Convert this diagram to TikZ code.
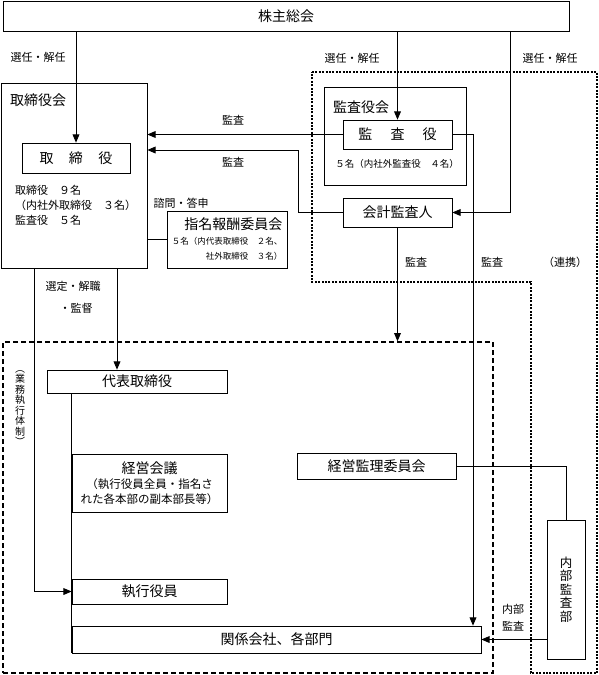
\documentclass[tikz,border=0pt]{standalone}
\usepackage{fontspec}
\setmainfont{Noto Sans CJK JP}
\usetikzlibrary{positioning}
\usetikzlibrary{shapes,arrows}
\usetikzlibrary{calc}

\begin{document}
\begin{tikzpicture}[x=1pt,y=-1pt]

\tikzset{
  box/.style={draw, rectangle, inner sep=0pt, align=center, line width=0.7pt,
  font=\fontsize{14}{16}\selectfont},
  lbl/.style={inner sep=0pt, align=center, font=\fontsize{11}{13}\selectfont},
  note/.style={inner sep=0pt, font=\fontsize{9.5}{11}\selectfont},
  link/.style={line width=0.9pt},
  auditarea/.style={line width=2pt, dash pattern=on 2pt off 1.4pt},
  execarea/.style={draw, rectangle, inner sep=0pt, line width=1.4pt, dash pattern=on 5pt off 3pt},
}

\useasboundingbox (0,0) rectangle (599,675);

% audit side (dotted)
\draw[auditarea] (312,72) -- (597,72) -- (597,673) -- (531,673) -- (531,282) -- (312,282) -- cycle;

% execution side (dashed)
\node[execarea, minimum width=490, minimum height=331] (gyomu) at (248,507.5) {};

\node[box, minimum width=566, minimum height=30] (kabu) at (286,16) {株主総会};

\node[box, minimum width=146, minimum height=185] (torikai) at (74,175.5) {};
\node[lbl, font=\fontsize{14}{16}\selectfont, anchor=west] (torikailbl) at (10,100) {取締役会};
\node[box, minimum width=108, minimum height=30] (tori) at (76,158) {取\hspace{1.1em}締\hspace{1.1em}役};
\node[lbl, align=left, anchor=north west, font=\fontsize{11}{15}\selectfont] (torinum) at (15,185)
  {取締役　９名\\（内社外取締役　３名）\\監査役　５名};

\node[box, minimum width=142, minimum height=98] (kansakai) at (395,136) {};
\node[lbl, font=\fontsize{14}{16}\selectfont, anchor=west] (kansakailbl) at (333,107) {監査役会};
\node[box, minimum width=109, minimum height=29] (kansa) at (397.5,134.5) {監\hspace{1.3em}査\hspace{1.3em}役};
\node[note] (kansanum) at (397,164) {５名（内社外監査役　４名）};

\node[box, minimum width=109, minimum height=29] (kaikei) at (397.5,212.5) {会計監査人};

\node[box, minimum width=120, minimum height=57, align=right] (shimei) at (227,239.5)
  {指名報酬委員会\\[-1pt]{\fontsize{8.5}{13}\selectfont ５名（内代表取締役　２名、}\\[-1pt]
   {\fontsize{8.5}{13}\selectfont 社外取締役　３名）}};

\node[box, minimum width=180, minimum height=23] (daihyo) at (137,381.5) {代表取締役};
\node[box, minimum width=155, minimum height=58] (keiei) at (149.5,483)
  {経営会議\\[-1pt]{\fontsize{11.5}{14}\selectfont （執行役員全員・指名さ}\\[-1pt]
   {\fontsize{11.5}{14}\selectfont れた各本部の副本部長等）}};
\node[box, minimum width=155, minimum height=25] (shikko) at (149.5,591.5) {執行役員};
\node[box, minimum width=409, minimum height=27] (kankei) at (276.5,639.5) {関係会社、各部門};
\node[box, minimum width=159, minimum height=26] (kanri) at (376.5,466) {経営監理委員会};
\node[box, minimum width=38, minimum height=139, font=\fontsize{12.5}{13.5}\selectfont] (naibu) at (566,589.5)
  {内\\部\\監\\査\\部};

\node[lbl, font=\fontsize{10}{10.5}\selectfont] (gyomulbl) at (20,408) {︵\\業\\務\\執\\行\\体\\制\\︶};

% labels
\node[lbl] (sen1) at (38,57) {選任・解任};
\node[lbl] (sen2) at (352,58) {選任・解任};
\node[lbl] (sen3) at (550,58) {選任・解任};
\node[lbl] (kan1) at (233,120) {監査};
\node[lbl] (kan2) at (233,162) {監査};
\node[lbl] (kan3) at (416,262) {監査};
\node[lbl] (kan4) at (492,262) {監査};
\node[lbl] (renkei) at (565,262) {（連携）};
\node[lbl] (shimon) at (181,203) {諮問・答申};
\node[lbl] (sentei) at (73,286) {選定・解職};
\node[lbl] (kantoku) at (76,308) {・監督};
\node[lbl, font=\fontsize{11}{17}\selectfont] (naibulbl) at (513,618) {内部\\監査};

% bends
\coordinate (rtap) at (510,0);
\coordinate (kbend) at (298,150);
\coordinate (vbend) at (473,0);
\coordinate (dtap) at (117,0);
\coordinate (stap) at (34,0);

\draw[link,->,>=triangle 45] (kabu.south -| tori.north) -- (tori.north);
\draw[link,->,>=triangle 45] (kabu.south -| kansa.north) -- (kansa.north);
\draw[link,->,>=triangle 45] (kabu.south -| rtap) |- (kaikei.east);
\draw[link,->,>=triangle 45] (kansa.west) -- (kansa.west -| torikai.east);
\draw[link,->,>=triangle 45] (kaikei.west) -| (kbend) -- (kbend -| torikai.east);
\draw[link,->,>=triangle 45] (kaikei.south) -- (kaikei.south |- gyomu.north);
\draw[link,->,>=triangle 45] (kansa.east) -| (vbend |- kankei.north);
\draw[link] (torikai.east |- shimei.west) -- (shimei.west);
\draw[link,->,>=triangle 45] (torikai.south -| dtap) -- (dtap |- daihyo.north);
\draw[link,->,>=triangle 45] (torikai.south -| stap) |- (shikko.west);
\draw[link] (daihyo.south -| kankei.west) -- (kankei.south west);
\draw[link] (kanri.east) -| (naibu.north);
\draw[link,->,>=triangle 45] (naibu.west |- kankei.east) -- (kankei.east);

\end{tikzpicture}
\end{document}
